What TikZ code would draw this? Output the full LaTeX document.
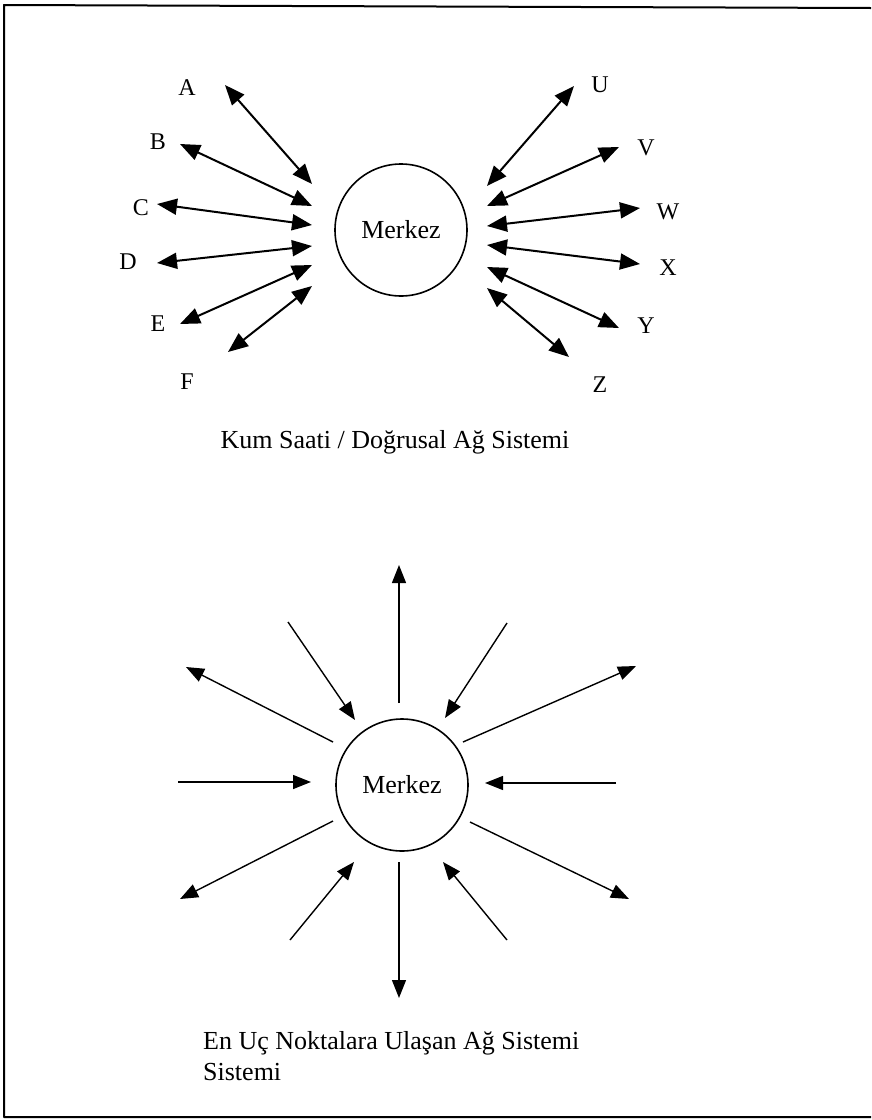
\documentclass[tikz,border=0pt]{standalone}
\usepackage{fontspec}
\setmainfont{Liberation Serif}
\usetikzlibrary{arrows.meta}
\begin{document}
\begin{tikzpicture}[
		x=1pt, y=-1pt, line join=round,
		font=\fontsize{26}{31}\selectfont,
		hub/.style={draw, line width=1.6pt, circle, minimum size=132pt, inner sep=0pt},
		twoway/.style={line width=2pt, {Triangle[length=20pt,width=16pt]}-{Triangle[length=20pt,width=16pt]}},
		oneway/.style={line width=1.4pt, -{Triangle[length=18pt,width=14pt]}},
		letter/.style={font=\fontsize{24}{28}\selectfont, inner sep=0pt}
		]
		\useasboundingbox (0,0) rectangle (871,1120);
		% frame
		\draw[line width=2pt] (871,8) -- (4,5) -- (4,1117) -- (871,1117);
		% upper picture
		\node[hub] (m1) at (401,230) {Merkez};
		\node[letter] (A) at (187,88) {A};
		\node[letter] (B) at (158,142) {B};
		\node[letter] (C) at (141,208) {C};
		\node[letter] (D) at (128,262) {D};
		\node[letter] (E) at (158,324) {E};
		\node[letter] (F) at (187,382) {F};
		\node[letter] (U) at (600,85) {U};
		\node[letter] (V) at (646,148) {V};
		\node[letter] (W) at (668,212) {W};
		\node[letter] (X) at (668,268) {X};
		\node[letter] (Y) at (646,326) {Y};
		\node[letter] (Z) at (600,385) {Z};
		\coordinate (a1) at (225,85);  \coordinate (a2) at (312,184);
		\coordinate (b1) at (180,144); \coordinate (b2) at (312,206);
		\coordinate (c1) at (157,204); \coordinate (c2) at (312,225);
		\coordinate (d1) at (157,263); \coordinate (d2) at (312,246);
		\coordinate (e1) at (180,324); \coordinate (e2) at (312,265);
		\coordinate (f1) at (228,352); \coordinate (f2) at (312,286);
		\coordinate (u1) at (574,86);  \coordinate (u2) at (487,186);
		\coordinate (v1) at (619,147); \coordinate (v2) at (487,206);
		\coordinate (w1) at (640,208); \coordinate (w2) at (487,226);
		\coordinate (x1) at (640,264); \coordinate (x2) at (487,245);
		\coordinate (y1) at (619,328); \coordinate (y2) at (487,267);
		\coordinate (z1) at (569,357); \coordinate (z2) at (487,288);
		\foreach \p in {a,b,c,d,e,f,u,v,w,x,y,z}
			\draw[twoway] (\p1) -- (\p2);
		\node (cap1) at (395,442) {Kum Saati / Doğrusal Ağ Sistemi};
		% lower picture
		\node[hub] (m2) at (402,785) {Merkez};
		\coordinate (no1) at (399,703); \coordinate (no2) at (399,565);
		\coordinate (su1) at (399,862); \coordinate (su2) at (399,998);
		\coordinate (we1) at (178,782); \coordinate (we2) at (311,782);
		\coordinate (ea1) at (616,783); \coordinate (ea2) at (485,783);
		\coordinate (nwi1) at (288,622); \coordinate (nwi2) at (355,720);
		\coordinate (nei1) at (507,623); \coordinate (nei2) at (445,718);
		\coordinate (nwo1) at (333,742); \coordinate (nwo2) at (186,667);
		\coordinate (neo1) at (463,742); \coordinate (neo2) at (636,666);
		\coordinate (swo1) at (333,821); \coordinate (swo2) at (180,899);
		\coordinate (seo1) at (470,822); \coordinate (seo2) at (629,899);
		\coordinate (swi1) at (290,940); \coordinate (swi2) at (354,862);
		\coordinate (sei1) at (507,940); \coordinate (sei2) at (443,862);
		\foreach \p in {no,su,we,ea,nwi,nei,nwo,neo,swo,seo,swi,sei}
			\draw[oneway] (\p1) -- (\p2);
		\node[anchor=west, align=left, inner sep=0pt] (cap2) at (203,1056) {En Uç Noktalara Ulaşan Ağ Sistemi\\Sistemi};
	\end{tikzpicture}
\end{document}
